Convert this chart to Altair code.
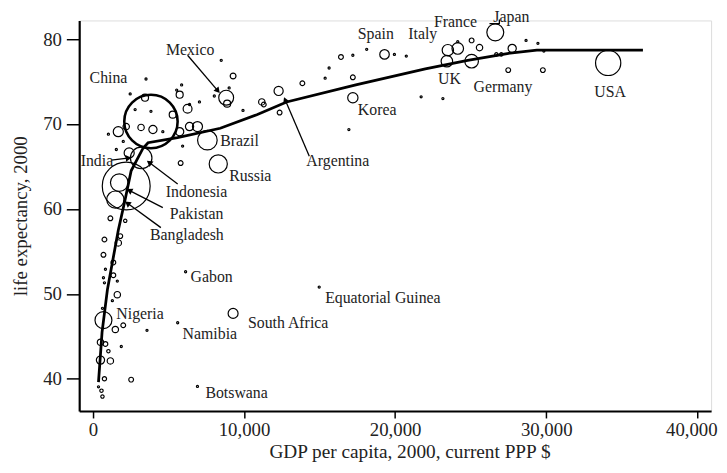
import math
import altair as alt
import pandas as pd

# ---------------- data ----------------
# bubbles: GDP per capita (PPP $), life expectancy (years), population (millions)
pt_gdp = [3844, 2207, 3196, 1748, 1487, 701, 34100, 26630, 8298, 7578, 8822, 25063,
          23426, 24146, 23491, 19300, 17204, 12292, 6137, 14977, 5613, 9280, 6922,
          3517, 3451, 2469, 5744, 5874, 5547, 6267, 5285, 6398, 3844, 2796, 7053, 8036,
          9018, 8887, 9935, 9280, 8494, 1683, 1028, 2011, 1552, 2207, 3189, 3975, 4630,
          5744, 6398, 6922, 5940, 5809, 2403, 11179, 11310, 12358, 13864, 15370, 15632,
          16418, 17204, 17204, 16942, 18121, 19954, 20740, 21722, 23163, 24146, 25063,
          25587, 26700, 27028, 27748, 28665, 29451, 29844, 27486, 29778,
          1159, 2142, 766, 1683, 1814, 701, 1356, 832, 701, 766, 1356, 1618, 1618, 1290,
          635, 1487, 2011, 3582, 504, 832, 1028, 1880, 504, 1159, 766, 2534, 373, 570, 635]
pt_le = [70.3, 62.7, 66.0, 63.1, 61.1, 46.9, 77.2, 80.8, 65.3, 68.1, 73.1, 77.4,
         77.4, 78.9, 78.7, 78.2, 73.1, 73.9, 52.6, 50.8, 46.6, 47.7, 39.1,
         75.3, 73.1, 73.55, 73.45, 74.6, 74.0, 71.8, 71.1, 72.3, 71.5, 71.7, 72.6, 73.3,
         74.25, 72.4, 71.6, 75.65, 77.5, 69.1, 68.8, 67.95, 67.0, 69.7, 69.6, 69.35, 69.1,
         69.1, 69.7, 69.7, 67.4, 65.4, 66.6, 72.6, 72.3, 71.35, 74.8, 75.4, 76.6,
         77.9, 78.1, 75.5, 69.35, 78.8, 78.2, 78.0, 73.2, 73.0, 79.7, 79.85,
         79.0, 78.2, 78.2, 78.9, 79.85, 79.5, 78.6, 76.35, 76.35,
         58.9, 58.6, 56.4, 56.0, 56.8, 54.6, 53.7, 52.9, 51.9, 51.3, 52.2, 51.5, 49.9, 49.2,
         48.3, 45.8, 46.3, 45.7, 44.3, 44.1, 43.25, 43.8, 42.2, 42.1, 40.0, 39.9, 39.05, 38.6, 37.9]
pt_pop = [1262, 1016, 206, 138, 131, 127, 282, 127, 146, 170, 98, 82,
          59, 59, 57, 40, 47, 37, 2, 2, 2, 44, 2,
          2, 22, 2, 22, 2, 2, 35, 22, 2, 2, 2, 2, 2,
          2, 22, 2, 15, 2, 45, 2, 2, 2, 18, 18, 30, 2,
          30, 30, 45, 2, 10, 45, 18, 10, 10, 10, 2, 2,
          10, 2, 10, 2, 2, 2, 2, 2, 2, 2, 10,
          18, 5, 5, 30, 2, 2, 2, 10, 10,
          10, 5, 10, 18, 10, 10, 10, 2, 2, 2, 10, 2, 18, 2,
          2, 18, 10, 2, 18, 10, 5, 2, 30, 18, 8, 10, 2, 5, 5]

# fitted curve
curve_gdp = [373, 609, 963, 1683, 2122, 2534, 3320, 3650, 5600, 8430, 10850, 12820,
             17400, 22000, 24800, 27420, 29380, 36400]
curve_le = [39.6, 45.5, 50.5, 57.5, 61.0, 64.5, 67.15, 67.8, 68.4, 69.5, 71.1, 72.6,
            74.6, 76.5, 77.5, 78.3, 78.7, 78.7]

# country labels
lab_text = ["Mexico", "China", "India", "Brazil", "Russia", "Indonesia", "Pakistan",
            "Bangladesh", "Argentina", "Korea", "Spain", "Italy", "France", "Japan", "UK",
            "Germany", "USA", "Gabon", "Equatorial Guinea", "Nigeria", "Namibia",
            "South Africa", "Botswana"]
lab_gdp = [4840, -216, -806, 8429, 9018, 4827, 5089, 3779, 14126, 17532, 17532, 20872,
           22575, 26500, 22837, 25194, 33184, 6464, 15370, 1552, 5940, 10262, 7446]
lab_le = [78.7, 75.4, 65.6, 67.96, 63.88, 62.0, 59.45, 56.9, 65.63, 71.69, 80.55, 80.55,
          82.06, 82.65, 75.3, 74.37, 73.79, 52.0, 49.55, 47.57, 45.24, 46.6, 38.3]

# arrows (from label towards bubble)
arr_x1 = [6267, 14323, 1225, 5613, 4630, 4499]
arr_y1 = [78.1, 66.2, 65.74, 62.95, 60.15, 57.8]
arr_x2 = [8232, 12751, 2300, 3779, 2469, 2338]
arr_y2 = [74.0, 72.74, 65.98, 65.4, 62.13, 60.6]

# Japan leader
jl_gdp = [26900, 26900, 26245]
jl_le = [82.3, 81.83, 81.83]

x_ticks = [0, 10000, 20000, 30000, 40000]
y_ticks = [40, 50, 60, 70, 80]

# ---------------- chart ----------------
W, H = 639, 395
XDOM = [-904, 40910]
YDOM = [36.2, 82.2]
FONT = "Liberation Serif"

pts = pd.DataFrame({"gdp": pt_gdp, "le": pt_le, "pop": pt_pop})
curve = pd.DataFrame({"gdp": curve_gdp, "le": curve_le, "i": range(len(curve_gdp))})
labs = pd.DataFrame({"gdp": lab_gdp, "le": lab_le, "t": lab_text})
pxx = W / (XDOM[1] - XDOM[0])
pxy = H / (YDOM[1] - YDOM[0])
angles = []
for a, b, c, d in zip(arr_x1, arr_y1, arr_x2, arr_y2):
    dx = (c - a) * pxx
    dy = -(d - b) * pxy
    angles.append((math.degrees(math.atan2(dx, -dy)) + 360) % 360)
arrows = pd.DataFrame({"gdp": arr_x1, "le": arr_y1, "gdp2": arr_x2, "le2": arr_y2,
                       "ang": angles})
heads = pd.DataFrame({"gdp": arr_x2, "le": arr_y2, "ang": angles})
jl = pd.DataFrame({"gdp": jl_gdp, "le": jl_le, "i": range(3)})

last_tick = "datum.value == %d" % x_ticks[-1]

xs = alt.Scale(domain=XDOM, nice=False, zero=False)
ys = alt.Scale(domain=YDOM, nice=False, zero=False)
X = alt.X("gdp:Q", scale=xs, axis=alt.Axis(
    values=x_ticks, format=",.0f", title="GDP per capita, 2000, current PPP $",
    grid=False, tickSize=7, tickWidth=1.5, tickColor="black", domainColor="black",
    domainWidth=2.2, labelFont=FONT, labelFontSize=19, labelColor="#222", labelPadding=3,
    labelAlign={"condition": {"test": last_tick, "value": "right"}, "value": "center"},
    labelOffset={"condition": {"test": last_tick, "value": 20}, "value": 0},
    titleFont=FONT, titleFontSize=19.5, titleFontWeight="normal", titleColor="#222",
    titlePadding=3, titleX=334))
Y = alt.Y("le:Q", scale=ys, axis=alt.Axis(
    values=y_ticks, title="life expectancy, 2000", grid=False, tickSize=13, tickWidth=1.5,
    tickColor="black", domainColor="black", domainWidth=2.2, labelFont=FONT,
    labelFontSize=19, labelColor="#222", labelPadding=5, titleFont=FONT,
    titleFontSize=19, titleFontWeight="normal", titleColor="#222", titlePadding=12))

bubbles = alt.Chart(pts).mark_point(shape="circle", filled=False, color="black",
                                    opacity=1).encode(
    x=X, y=Y,
    size=alt.Size("pop:Q", scale=alt.Scale(domain=[0, 1300], range=[0, 3000]), legend=None),
    strokeWidth=alt.condition("datum.pop > 1200", alt.value(2.6), alt.value(1.2)))

line = alt.Chart(curve).mark_line(color="black", strokeWidth=2.8).encode(
    x=X, y=Y, order="i:Q")

rules = alt.Chart(arrows).mark_rule(color="black", strokeWidth=1.3).encode(
    x=X, y=Y, x2="gdp2:Q", y2="le2:Q")

tips = alt.Chart(heads).mark_point(shape="triangle", filled=True, color="black",
                                   size=45, opacity=1).encode(
    x=X, y=Y, angle=alt.Angle("ang:Q", scale=None))

leader = alt.Chart(jl).mark_line(color="black", strokeWidth=1.3).encode(
    x=X, y=Y, order="i:Q")

texts = alt.Chart(labs).mark_text(align="left", baseline="middle", font=FONT,
                                  fontSize=16, color="#222").encode(
    x=X, y=Y, text="t:N")

chart = alt.layer(bubbles, line, rules, tips, leader, texts).properties(
    width=W, height=H,
    autosize=alt.AutoSizeParams(type="none"),
    padding={"left": 72, "top": 10, "right": 8, "bottom": 52},
).configure_view(stroke=None).configure(background="white")

chart.save("out.html", embed_options={"renderer": "svg", "actions": False})
